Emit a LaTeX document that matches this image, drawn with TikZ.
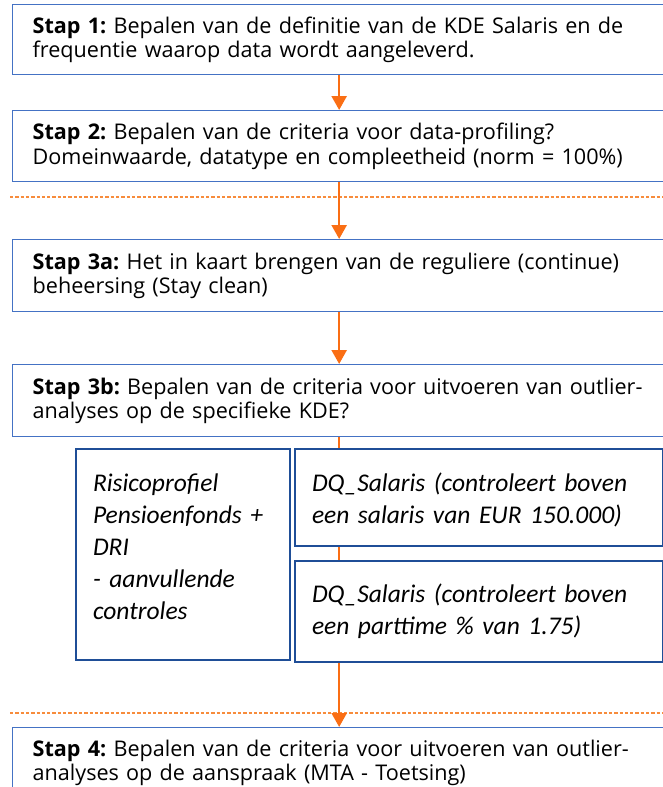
\documentclass[tikz,border=0pt]{standalone}
\usepackage{fontspec}
\setmainfont{Open Sans}
\newfontfamily\subfont{Carlito}
\usetikzlibrary{arrows.meta}
\frenchspacing
\hyphenpenalty=10000

\definecolor{stepblue}{RGB}{68,114,196}
\definecolor{subblue}{RGB}{31,78,151}
\definecolor{flowor}{RGB}{250,110,20}
\definecolor{sepor}{RGB}{247,140,60}

\tikzset{
  stepbox/.style={draw=stepblue, line width=1.3bp, fill=white, anchor=north west,
    text width=613bp, inner xsep=20bp, inner ysep=0pt,
    font=\fontsize{21.6bp}{24.5bp}\selectfont},
  subbox/.style={draw=subblue, line width=2bp, fill=white, anchor=north west,
    inner xsep=17bp, inner ysep=0pt, align=left, text height=42bp,
    font=\subfont\itshape\fontsize{25.5bp}{32bp}\selectfont},
  flow/.style={draw=flowor, line width=2.5bp, -{Triangle[width=15bp,length=14bp]}},
  sepline/.style={draw=sepor, line width=1.2bp, dash pattern=on 3.3bp off 2bp}
}

\begin{document}
\begin{tikzpicture}[x=1bp,y=-1bp]
  \useasboundingbox (0,0) rectangle (663,787);
  \clip (0,0) rectangle (663,787);
  % hoofdstappen
  \node[stepbox, minimum height=70bp] (stap1) at (12,4)
    {\textbf{Stap 1:} Bepalen van de definitie van de KDE Salaris en de\linebreak
     frequentie waarop data wordt aangeleverd.};
  \node[stepbox, minimum height=71bp] (stap2) at (12,110)
    {\textbf{Stap 2:} Bepalen van de criteria voor data-profiling?\\
     Domeinwaarde, datatype en compleetheid (norm = 100\%)};
  \node[stepbox, minimum height=72bp] (stap3a) at (12,239)
    {\textbf{Stap 3a:} Het in kaart brengen van de reguliere (continue)\linebreak
     beheersing (Stay clean)};
  \node[stepbox, minimum height=72bp] (stap3b) at (12,364)
    {\textbf{Stap 3b:} Bepalen van de criteria voor uitvoeren van outlier-\linebreak
     analyses op de specifieke KDE?};
  \node[stepbox, minimum height=70bp] (stap4) at (12,727)
    {\textbf{Stap 4:} Bepalen van de criteria voor uitvoeren van outlier-\linebreak
     analyses op de aanspraak (MTA - Toetsing)};
  % scheidingslijnen
  \draw[sepline] (10,197) -- (663,197);
  \draw[sepline] (10,713) -- (663,713);
  % pijlen
  \draw[flow] (stap1.south) -- (stap2.north);
  \draw[flow] (stap2.south) -- (stap3a.north);
  \draw[flow] (stap3a.south) -- (stap3b.north);
  \draw[flow] (stap3b.south) -- (stap4.north);
  % controles
  \node[subbox, text width=180bp, text depth=169bp] (risico) at (75,448)
    {Risicoprofiel\\ Pensioenfonds +\\ DRI\\ - aanvullende\\ controles};
  \node[subbox, text width=334bp, text depth=55bp] (dqsal) at (294,448)
    {DQ\_Salaris (controleert boven\\ een salaris van EUR 150.000)};
  \node[subbox, text width=334bp, text depth=60bp, text height=41bp] (dqpt) at (294,560)
    {DQ\_Salaris (controleert boven\\ een parttime \% van 1.75)};
\end{tikzpicture}
\end{document}
